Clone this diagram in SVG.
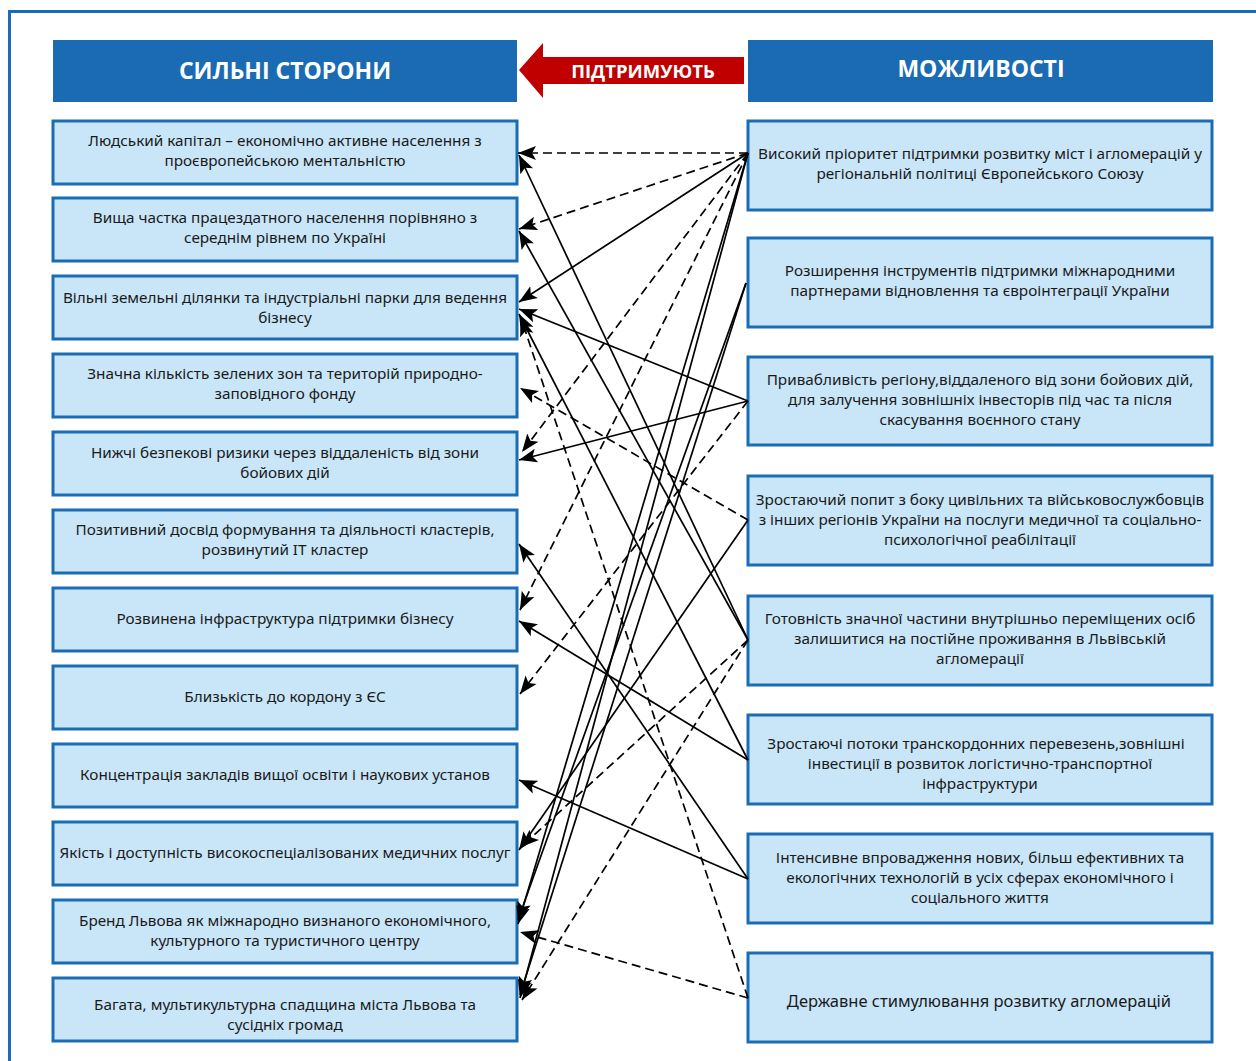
<svg xmlns="http://www.w3.org/2000/svg" width="1256" height="1061" viewBox="0 0 1256 1061">
<defs>
<style>
.hdr{fill:#1a6bb3}
.box{fill:#c9e6f8;stroke:#1a6db5;stroke-width:3}
.ht{font-family:"Open Sans","Noto Sans",sans-serif;font-weight:700;fill:#fff;text-anchor:middle}
.t{font-family:"Noto Sans","Open Sans",sans-serif;font-size:15.3px;fill:#1a1a1a;text-anchor:middle}
.big{font-size:16.5px}
.s{fill:none;stroke:#000;stroke-width:1.7;marker-end:url(#ah)}
.d{fill:none;stroke:#000;stroke-width:1.7;stroke-dasharray:9 5;marker-end:url(#ah)}
</style>
<marker id="ah" markerUnits="userSpaceOnUse" markerWidth="19" markerHeight="16" refX="18" refY="8" orient="auto">
<path d="M0,1 L18,8 L0,15 L4,8 z" fill="#000"/>
</marker>
</defs>
<rect x="0" y="0" width="1256" height="1061" fill="#fff"/>
<path d="M9.5,1061 V11.5 H1256" fill="none" stroke="#1a6bb3" stroke-width="3"/>

<g id="hdr-strengths">
<rect class="hdr" x="53" y="40" width="464" height="62"/>
<text class="ht" x="285" y="79" font-size="23">СИЛЬНІ СТОРОНИ</text>
</g>
<g id="hdr-opportunities">
<rect class="hdr" x="748" y="40" width="465" height="62"/>
<text class="ht" x="981" y="77" font-size="23">МОЖЛИВОСТІ</text>
</g>
<g id="hdr-arrow">
<path d="M519,70 L543,43 L543,57 L744,57 L744,84 L543,84 L543,98 Z" fill="#c00000"/>
<text class="ht" x="643" y="78" font-size="18.5">ПІДТРИМУЮТЬ</text>
</g>

<g id="L1"><rect class="box" x="53" y="121" width="464" height="63"/>
<text class="t" x="285" y="146">Людський капітал – економічно активне населення з</text>
<text class="t" x="285" y="166">проєвропейською ментальністю</text></g>
<g id="L2"><rect class="box" x="53" y="198" width="464" height="63"/>
<text class="t" x="285" y="223">Вища частка працездатного населення порівняно з</text>
<text class="t" x="285" y="243">середнім рівнем по Україні</text></g>
<g id="L3"><rect class="box" x="53" y="276" width="464" height="63"/>
<text class="t" x="285" y="303">Вільні земельні ділянки та індустріальні парки для ведення</text>
<text class="t" x="285" y="323">бізнесу</text></g>
<g id="L4"><rect class="box" x="53" y="354" width="464" height="63"/>
<text class="t" x="285" y="379">Значна кількість зелених зон та територій природно-</text>
<text class="t" x="285" y="399">заповідного фонду</text></g>
<g id="L5"><rect class="box" x="53" y="432" width="464" height="63"/>
<text class="t" x="285" y="458">Нижчі безпекові ризики через віддаленість від зони</text>
<text class="t" x="285" y="478">бойових дій</text></g>
<g id="L6"><rect class="box" x="53" y="510" width="464" height="63"/>
<text class="t" x="285" y="535">Позитивний досвід формування та діяльності кластерів,</text>
<text class="t" x="285" y="555">розвинутий IT кластер</text></g>
<g id="L7"><rect class="box" x="53" y="588" width="464" height="63"/>
<text class="t" x="285" y="624">Розвинена інфраструктура підтримки бізнесу</text></g>
<g id="L8"><rect class="box" x="53" y="666" width="464" height="63"/>
<text class="t" x="285" y="702">Близькість до кордону з ЄС</text></g>
<g id="L9"><rect class="box" x="53" y="744" width="464" height="63"/>
<text class="t" x="285" y="780">Концентрація закладів вищої освіти і наукових установ</text></g>
<g id="L10"><rect class="box" x="53" y="822" width="464" height="63"/>
<text class="t" x="285" y="858">Якість і доступність високоспеціалізованих медичних послуг</text></g>
<g id="L11"><rect class="box" x="53" y="900" width="464" height="63"/>
<text class="t" x="285" y="926">Бренд Львова як міжнародно визнаного економічного,</text>
<text class="t" x="285" y="946">культурного та туристичного центру</text></g>
<g id="L12"><rect class="box" x="53" y="978" width="464" height="63"/>
<text class="t" x="285" y="1010">Багата, мультикультурна спадщина міста Львова та</text>
<text class="t" x="285" y="1030">сусідніх громад</text></g>

<g id="R1"><rect class="box" x="748" y="121" width="464" height="89"/>
<text class="t" x="980" y="159">Високий пріоритет підтримки розвитку міст і агломерацій у</text>
<text class="t" x="980" y="179">регіональній політиці Європейського Союзу</text></g>
<g id="R2"><rect class="box" x="748" y="238" width="464" height="89"/>
<text class="t" x="980" y="276">Розширення інструментів підтримки міжнародними</text>
<text class="t" x="980" y="296">партнерами відновлення та євроінтеграції України</text></g>
<g id="R3"><rect class="box" x="748" y="357" width="464" height="88"/>
<text class="t" x="980" y="385">Привабливість регіону,віддаленого від зони бойових дій,</text>
<text class="t" x="980" y="405">для залучення зовнішніх інвесторів під час та після</text>
<text class="t" x="980" y="425">скасування воєнного стану</text></g>
<g id="R4"><rect class="box" x="748" y="476" width="464" height="89"/>
<text class="t" x="980" y="505">Зростаючий попит з боку цивільних та військовослужбовців</text>
<text class="t" x="980" y="525">з інших регіонів України на послуги медичної та соціально-</text>
<text class="t" x="980" y="545">психологічної реабілітації</text></g>
<g id="R5"><rect class="box" x="748" y="596" width="464" height="89"/>
<text class="t" x="980" y="624">Готовність значної частини внутрішньо переміщених осіб</text>
<text class="t" x="980" y="644">залишитися на постійне проживання в Львівській</text>
<text class="t" x="980" y="664">агломерації</text></g>
<g id="R6"><rect class="box" x="748" y="715" width="464" height="89"/>
<text class="t" x="976" y="749">Зростаючі потоки транскордонних перевезень,зовнішні</text>
<text class="t" x="980" y="769">інвестиції в розвиток логістично-транспортної</text>
<text class="t" x="980" y="789">інфраструктури</text></g>
<g id="R7"><rect class="box" x="748" y="834" width="464" height="89"/>
<text class="t" x="980" y="863">Інтенсивне впровадження нових, більш ефективних та</text>
<text class="t" x="980" y="883">екологічних технологій в усіх сферах економічного і</text>
<text class="t" x="980" y="903">соціального життя</text></g>
<g id="R8"><rect class="box" x="748" y="953" width="464" height="89"/>
<text class="t big" x="979" y="1007">Державне стимулювання розвитку агломерацій</text></g>

<g id="connectors">
<!-- R1 -->
<line class="d" x1="748" y1="153" x2="518" y2="153"/>
<line class="d" x1="748" y1="153" x2="519" y2="229"/>
<line class="s" x1="748" y1="153" x2="519" y2="302"/>
<line class="d" x1="748" y1="153" x2="522" y2="452"/>
<line class="d" x1="748" y1="153" x2="520" y2="610"/>
<line class="s" x1="748" y1="153" x2="518" y2="924"/>
<line class="s" x1="748" y1="153" x2="520" y2="998"/>
<!-- R2 -->
<line class="s" x1="746" y1="283" x2="518" y2="920"/>
<line class="s" x1="746" y1="283" x2="520" y2="995"/>
<!-- R3 -->
<line class="s" x1="748" y1="401" x2="519" y2="309"/>
<line class="s" x1="748" y1="401" x2="519" y2="460"/>
<line class="d" x1="748" y1="401" x2="520" y2="694"/>
<!-- R4 -->
<line class="d" x1="748" y1="520" x2="520" y2="388"/>
<line class="s" x1="748" y1="520" x2="519" y2="850"/>
<!-- R5 -->
<line class="s" x1="748" y1="640" x2="519" y2="155"/>
<line class="s" x1="748" y1="640" x2="519" y2="231"/>
<line class="d" x1="748" y1="640" x2="521" y2="847"/>
<line class="d" x1="748" y1="640" x2="522" y2="1000"/>
<!-- R6 -->
<line class="s" x1="748" y1="760" x2="519" y2="314"/>
<line class="s" x1="748" y1="760" x2="519" y2="621"/>
<!-- R7 -->
<line class="s" x1="748" y1="879" x2="519" y2="544"/>
<line class="s" x1="748" y1="879" x2="519" y2="780"/>
<!-- R8 -->
<line class="d" x1="748" y1="998" x2="521" y2="318"/>
<line class="d" x1="748" y1="998" x2="520" y2="932"/>
</g>
</svg>
